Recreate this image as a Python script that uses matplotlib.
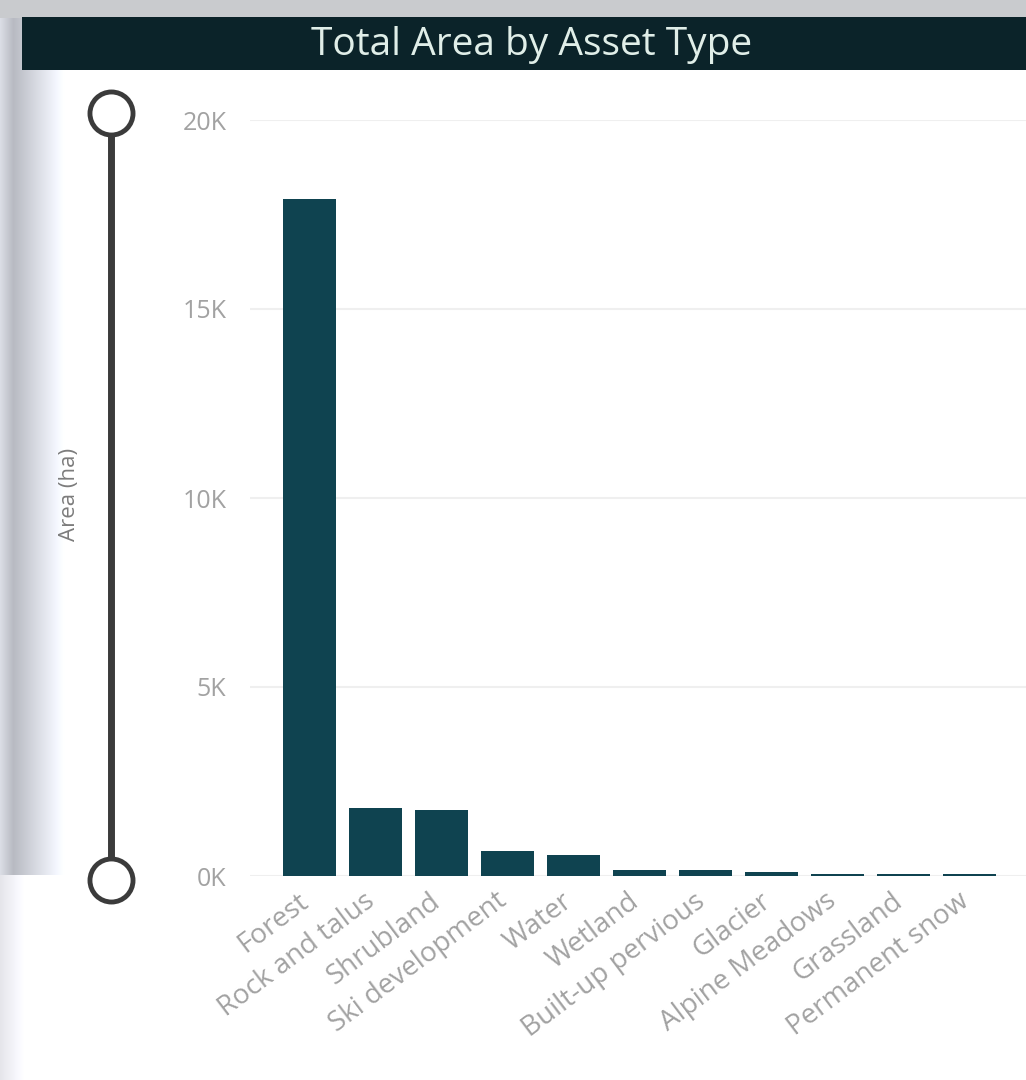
import matplotlib.pyplot as plt
import matplotlib.transforms as mtransforms
import numpy as np
from matplotlib.patches import Rectangle
from matplotlib.ticker import FuncFormatter

# Area by asset type (ha)
asset_types = [
    "Forest", "Rock and talus", "Shrubland", "Ski development", "Water",
    "Wetland", "Built-up pervious", "Glacier", "Alpine Meadows",
    "Grassland", "Permanent snow",
]
area_ha = [17900, 1800, 1750, 660, 550, 160, 150, 110, 60, 50, 40]
y_ticks = [0, 5000, 10000, 15000, 20000]

BAR = "#0f4350"
TEXT_GRAY = "#a2a2a2"

W, H = 1026, 1080
fig = plt.figure(figsize=(W / 100, H / 100), dpi=100)
fig.patch.set_facecolor("white")

# background: grey window strip at top and shaded panel edge on the left
bg = fig.add_axes([0, 0, 1, 1], zorder=0)
bg.set_xlim(0, W)
bg.set_ylim(H, 0)
bg.axis("off")
bg.add_patch(Rectangle((0, 0), W, 18, color="#c9cbce", lw=0))
xs = np.linspace(0, 1, 80)
shade = np.where(xs < 0.2, 0.86 - xs * 0.7, 0.72 + (xs - 0.2) * 0.36)
shade = np.clip(shade, 0, 1)[None, :]
bg.imshow(np.dstack([shade, shade + 0.01, shade + 0.04]).clip(0, 1),
          extent=[0, 66, 875, 18], aspect="auto")
low = np.linspace(0.9, 1, 40)[None, :]
bg.imshow(np.dstack([low, low, low + 0.02]).clip(0, 1),
          extent=[0, 24, H, 875], aspect="auto")
bg.add_patch(Rectangle((22, 17), W - 22, 53, color="#0b2329", lw=0))
bg.text(532, 45, "Total Area by Asset Type", color="#e0eee8", fontsize=28,
        ha="center", va="center", family="Open Sans")

# slider decoration
bg.plot([111, 111], [133, 860], color="#3b3b3b", lw=5, solid_capstyle="butt")
bg.plot([111, 111], [113, 880], ls="none", marker="o", ms=31,
        mfc="white", mec="#3b3b3b", mew=3.5)

# the chart
ax = fig.add_axes([250 / W, (H - 876) / H, 776 / W, 756 / H], zorder=1)
ax.patch.set_alpha(0)
x = np.arange(len(asset_types))
ax.bar(x, area_ha, width=0.8, color=BAR, zorder=3)
ax.set_xlim(-0.9, 10.86)
ax.set_ylim(0, 20000)
ax.set_yticks(y_ticks)
ax.yaxis.set_major_formatter(FuncFormatter(lambda v, p: f"{v / 1000:.0f}K"))
ax.grid(axis="y", color="#efefef", lw=1.5, zorder=0)
for s in ax.spines.values():
    s.set_visible(False)
ax.tick_params(axis="both", length=0, colors=TEXT_GRAY)
ax.tick_params(axis="y", pad=17, labelsize=18)
ax.set_xticks(x)
ax.set_xticklabels(asset_types, rotation=37, ha="right", rotation_mode="anchor")
ax.tick_params(axis="x", pad=8, labelsize=20)

# nudge the rotated labels a little left, like the original
shift = mtransforms.ScaledTranslation(-12 / 100, 0, fig.dpi_scale_trans)
for lbl in ax.get_xticklabels():
    lbl.set_transform(lbl.get_transform() + shift)
for lbl in ax.get_xticklabels() + ax.get_yticklabels():
    lbl.set_family("Open Sans")

ax.set_ylabel("Area (ha)", color="#7c7c7c", fontsize=16, family="Open Sans",
              labelpad=0)
ax.yaxis.set_label_coords(-170 / 776, 0.505)

fig.savefig("out.png", dpi=100)
